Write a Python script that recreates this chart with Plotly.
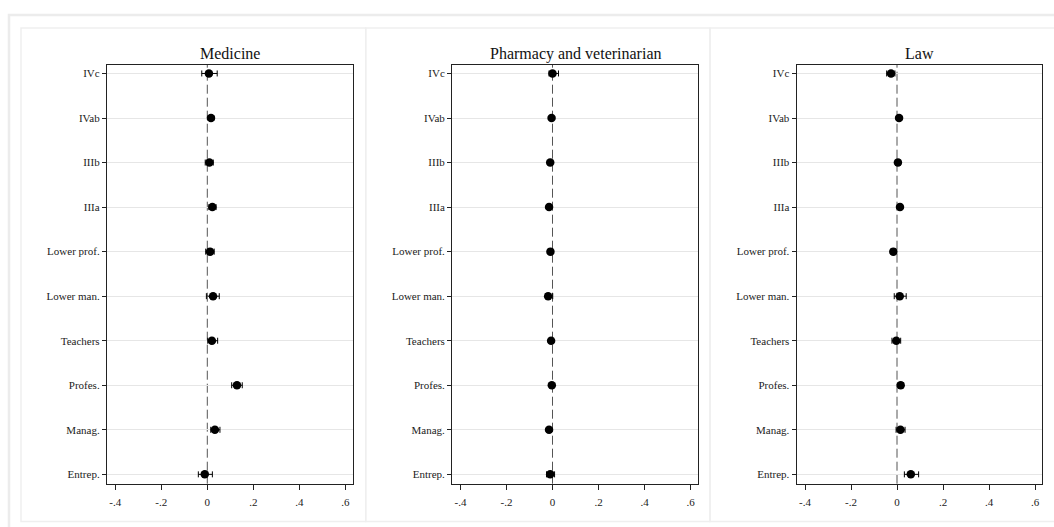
import plotly.graph_objects as go

W, H = 1054, 527

# Occupational categories, top to bottom
categories = ["IVc", "IVab", "IIIb", "IIIa", "Lower prof.", "Lower man.",
              "Teachers", "Profes.", "Manag.", "Entrep."]

panels = ["Medicine", "Pharmacy and veterinarian", "Law"]

# Point estimates and confidence bounds per field
medicine_est = [0.007, 0.016, 0.009, 0.022, 0.012, 0.025, 0.020, 0.129, 0.033, -0.011]
medicine_lo = [-0.024, 0.004, -0.009, 0.007, -0.007, -0.004, 0.002, 0.106, 0.015, -0.039]
medicine_hi = [0.043, 0.028, 0.026, 0.038, 0.030, 0.052, 0.045, 0.152, 0.055, 0.022]

pharm_est = [0.000, -0.004, -0.010, -0.015, -0.009, -0.019, -0.006, -0.003, -0.015, -0.010]
pharm_lo = [-0.015, -0.010, -0.016, -0.021, -0.016, -0.030, -0.012, -0.009, -0.021, -0.026]
pharm_hi = [0.026, 0.002, -0.004, -0.009, -0.002, 0.001, 0.000, 0.003, -0.009, 0.009]

law_est = [-0.026, 0.009, 0.004, 0.013, -0.016, 0.012, -0.003, 0.016, 0.015, 0.060]
law_lo = [-0.045, -0.002, -0.006, 0.003, -0.026, -0.012, -0.022, 0.005, -0.004, 0.032]
law_hi = [-0.009, 0.020, 0.014, 0.024, -0.006, 0.040, 0.016, 0.028, 0.035, 0.094]

x_ticks = [-0.4, -0.2, 0, 0.2, 0.4, 0.6]
x_tick_text = ["-.4", "-.2", "0", ".2", ".4", ".6"]

series = [(medicine_est, medicine_lo, medicine_hi),
          (pharm_est, pharm_lo, pharm_hi),
          (law_est, law_lo, law_hi)]

FONT = "Liberation Serif"
x_range = [-0.436, 0.632]
px_per_unit = 230.0
zero_px = [207.3, 552.5, 897.0]
top_px, bot_px = 65.0, 483.7

fig = go.Figure()
layout_axes = {}
shapes = []
annotations = []

def px_x(p):
    return p / W

def px_y(p):
    return 1 - p / H

# Light background panel frames
shapes.append(dict(type="rect", xref="paper", yref="paper",
                   x0=px_x(9), x1=px_x(1062), y0=px_y(15), y1=px_y(540),
                   line=dict(color="#ececec", width=2.5), layer="below"))
for x0, x1 in [(21, 365.7), (365.7, 710), (710, 1062)]:
    shapes.append(dict(type="rect", xref="paper", yref="paper",
                       x0=px_x(x0), x1=px_x(x1), y0=px_y(28), y1=px_y(521.5),
                       line=dict(color="#efefef", width=1.5), layer="below"))

for i, (name, (est, lo, hi)) in enumerate(zip(panels, series)):
    n = i + 1
    xa = "x" if n == 1 else f"x{n}"
    ya = "y" if n == 1 else f"y{n}"
    plus = [h - e for h, e in zip(hi, est)]
    minus = [e - l for e, l in zip(est, lo)]
    fig.add_trace(go.Scatter(
        x=est, y=categories, mode="markers",
        marker=dict(color="black", size=8.5),
        error_x=dict(type="data", symmetric=False, array=plus, arrayminus=minus,
                     color="black", thickness=1, width=3),
        xaxis=xa, yaxis=ya, showlegend=False, cliponaxis=False))

    left = zero_px[i] + x_range[0] * px_per_unit
    right = zero_px[i] + x_range[1] * px_per_unit
    xdom = [left / W, right / W]
    ydom = [px_y(bot_px), px_y(top_px)]
    xkey = "xaxis" if n == 1 else f"xaxis{n}"
    ykey = "yaxis" if n == 1 else f"yaxis{n}"
    layout_axes[xkey] = dict(
        domain=xdom, range=x_range, anchor=ya,
        tickvals=x_ticks, ticktext=x_tick_text, ticks="outside", ticklen=5,
        tickwidth=1, tickcolor="#222", showgrid=False, zeroline=False,
        showline=True, linecolor="#222", linewidth=1.3, mirror=True,
        ticklabelstandoff=3,
        tickfont=dict(family=FONT, size=11, color="#222"))
    layout_axes[ykey] = dict(
        domain=ydom, anchor=xa, type="category",
        categoryorder="array", categoryarray=categories[::-1],
        range=[-0.21, 9.19], ticks="outside", ticklen=4, tickwidth=1,
        tickcolor="#222", showgrid=True, gridcolor="#e6e6e6", gridwidth=1,
        zeroline=False, showline=True, linecolor="#222", linewidth=1.3,
        mirror=True, tickfont=dict(family=FONT, size=11, color="#222"))

    # Dashed reference line at zero
    shapes.append(dict(type="line", xref=xa, yref=f"{ya} domain",
                       x0=0, x1=0, y0=0, y1=1,
                       line=dict(color="#555", width=1, dash="9px,4px"),
                       layer="below"))

    annotations.append(dict(text=name, xref="paper", yref="paper",
                            x=(xdom[0] + xdom[1]) / 2, y=px_y(54),
                            xanchor="center", yanchor="middle", showarrow=False,
                            font=dict(family=FONT, size=16, color="#111")))

fig.update_layout(
    width=W, height=H, margin=dict(l=0, r=0, t=0, b=0),
    paper_bgcolor="white", plot_bgcolor="white",
    shapes=shapes, annotations=annotations, **layout_axes)

fig.write_html("out.html")
